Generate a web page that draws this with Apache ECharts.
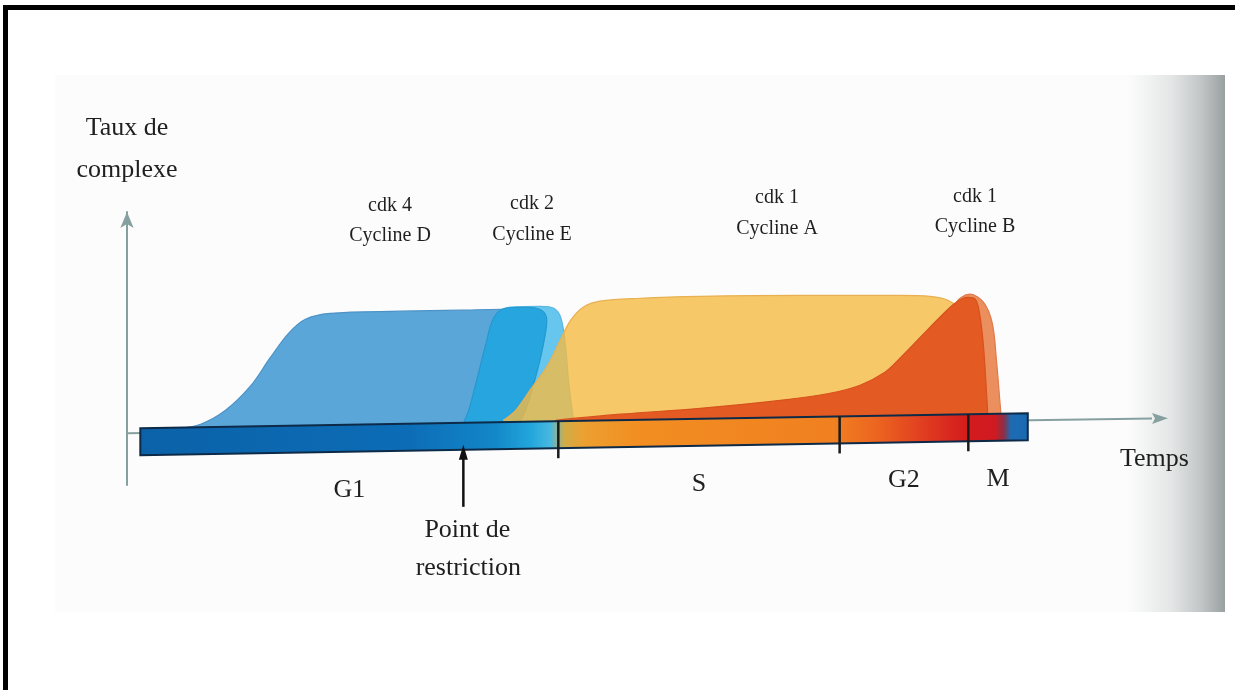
<!DOCTYPE html>
<html><head><meta charset="utf-8">
<script src="https://cdn.jsdelivr.net/npm/echarts@6/dist/echarts.min.js"></script>
<style>html,body{margin:0;padding:0;background:#fff}#c{width:1235px;height:690px}</style>
</head><body><div id="c"></div>
<script>
// ---- data (time in % of the cycle, level = taux de complexe, arbitrary units) ----
const phaseNames = ['G1', 'S', 'G2', 'M'];
const phaseStarts = [0, 47.1, 78.8, 93.3];
const cycleEnd = 100;
const restrictionPoint = 36.4;
const barTopLevels = [-5.7, 5.0];      // top edge of the phase bar at start / end of cycle
const barBottomLevels = [-24.9, -14.2];
const timeAxisRange = [-1.5, 115.8];
const timeAxisLevels = [-9.2, 1.4];    // the (slightly tilted, scanned) time axis
const complexLabels = [
  ['cdk 4', 'Cycline D'],
  ['cdk 2', 'Cycline E'],
  ['cdk 1', 'Cycline A'],
  ['cdk 1', 'Cycline B']
];
const cyclinD = [[4.3,-5.7],[6.8,-2.8],[9.6,7.1],[12.4,24.2],[14.6,44.1],[16.7,61.8],[18.6,71.8],[21.4,76.0],[29.3,77.5],[36.1,78.2],[40.6,78.9],[43.9,78.2],[45.6,72.5],[46.4,49.8],[46.9,14.2],[47.1,1.4]];
const cyclinERim = [[36.6,-1.4],[37.9,24.9],[39.0,53.3],[40.0,72.5],[41.5,80.3],[45.1,81.0],[46.6,79.6],[47.4,72.5],[47.9,53.3],[48.3,24.9],[48.8,1.4]];
const cyclinE = [[36.3,-3.6],[37.0,7.1],[37.9,28.4],[38.9,53.3],[39.8,72.5],[41.1,79.6],[43.6,80.3],[45.2,78.2],[45.8,71.1],[45.4,53.3],[44.6,32.0],[43.6,10.7],[42.8,-1.4]];
const cyclinA = [[40.9,0],[42.3,7.1],[43.9,21.3],[45.9,39.1],[47.3,56.9],[48.5,71.1],[49.9,80.3],[51.8,84.6],[56.3,86.7],[63.1,88.1],[74.4,88.8],[85.6,88.8],[89.0,88.1],[91.0,85.3],[92.4,78.2],[94.1,49.8],[95.2,17.8],[95.8,2.8]];
const cyclinBRim = [[90.1,14.2],[91.8,81.7],[93.5,89.6],[95.0,83.9],[96.0,68.9],[96.5,40.5],[96.8,17.8],[97.0,2.8]];
const cyclinB = [[46.8,0],[54.1,4.3],[63.1,8.5],[72.1,14.2],[77.7,19.2],[81.1,24.9],[83.9,34.1],[85.6,44.1],[87.9,59.0],[90.1,73.2],[91.8,83.2],[93.2,87.4],[94.1,86.0],[94.6,74.6],[95.0,53.3],[95.3,24.9],[95.5,3.6]];

// ---- chart ----
const SERIF = '"Liberation Serif", "DejaVu Serif", serif';
const TXT = '#1f1f1f';
const AXIS = '#86a0a0';
const areaBase = -7;

const chart = echarts.init(document.getElementById('c'), null, {renderer: 'canvas'});

function lerp(arr, t) { return arr[0] + (arr[1] - arr[0]) * t / cycleEnd; }

function areaSeries(name, data, fill, stroke, opacity, z) {
  return {
    type: 'line', name, data, z, smooth: 0.35, symbol: 'none', silent: true,
    lineStyle: {color: stroke, width: 1.2},
    areaStyle: {color: fill, opacity: opacity, origin: areaBase}
  };
}

const barGradient = new echarts.graphic.LinearGradient(0, 0, 1, 0, [
  {offset: 0, color: '#0b62a8'},
  {offset: 0.30, color: '#0c6cb6'},
  {offset: 0.40, color: '#1387c8'},
  {offset: 0.44, color: '#22a6dc'},
  {offset: 0.462, color: '#48b8e0'},
  {offset: 0.478, color: '#d0ac48'},
  {offset: 0.50, color: '#eca030'},
  {offset: 0.56, color: '#f28e22'},
  {offset: 0.78, color: '#f08020'},
  {offset: 0.83, color: '#ec6420'},
  {offset: 0.90, color: '#dc3020'},
  {offset: 0.93, color: '#d41c1c'},
  {offset: 0.962, color: '#d01a22'},
  {offset: 0.972, color: '#8a3048'},
  {offset: 0.98, color: '#1c6cb4'},
  {offset: 1, color: '#1a68b0'}
]);

const option = {
  animation: false,
  backgroundColor: '#ffffff',
  grid: {left: 127, right: 67, top: 212, bottom: 205, containLabel: false},
  xAxis: {
    type: 'value', min: timeAxisRange[0], max: timeAxisRange[1],
    axisLine: {show: false},
    axisTick: {show: false}, axisLabel: {show: false}, splitLine: {show: false},
    name: 'Temps', nameLocation: 'end', nameGap: -48,
    nameTextStyle: {fontFamily: SERIF, fontSize: 26, color: TXT, align: 'left', verticalAlign: 'top', padding: [26, 0, 0, 0]}
  },
  yAxis: {
    type: 'value', min: -46, max: 148,
    axisLine: {onZero: false, lineStyle: {color: AXIS, width: 2}, symbol: ['none', 'arrow'], symbolSize: [10, 16]},
    axisTick: {show: false}, axisLabel: {show: false}, splitLine: {show: false},
    name: 'Taux de\ncomplexe', nameLocation: 'end', nameGap: 21,
    nameTextStyle: {fontFamily: SERIF, fontSize: 26, lineHeight: 42, color: TXT, align: 'center'}
  },
  graphic: [
    {type: 'rect', z: -100, shape: {x: 55, y: 75, width: 1170, height: 537}, style: {fill: '#fcfcfc'}},
    {type: 'rect', z: -99, shape: {x: 1128, y: 75, width: 97, height: 537},
      style: {fill: new echarts.graphic.LinearGradient(0, 0, 1, 0, [
        {offset: 0, color: 'rgba(252,252,252,1)'},
        {offset: 0.45, color: '#e4e6e6'},
        {offset: 0.75, color: '#c2c6c6'},
        {offset: 1, color: '#9aa0a0'}])}},
    {type: 'rect', z: 100, shape: {x: 3, y: 5, width: 1232, height: 5}, style: {fill: '#000'}},
    {type: 'rect', z: 100, shape: {x: 3, y: 5, width: 5, height: 685}, style: {fill: '#000'}},
    ...[[390, 206, 236], [532, 204, 235], [777, 198, 229], [975, 197, 227]].flatMap((p, i) => [
      {type: 'text', z: 50, x: p[0], y: p[1], style: {text: complexLabels[i][0], font: '20px ' + SERIF, fill: TXT, align: 'center', verticalAlign: 'middle', textAlign: 'center', textVerticalAlign: 'middle'}},
      {type: 'text', z: 50, x: p[0], y: p[2], style: {text: complexLabels[i][1], font: '20px ' + SERIF, fill: TXT, align: 'center', verticalAlign: 'middle', textAlign: 'center', textVerticalAlign: 'middle'}}
    ])
  ],
  series: [
    {
      type: 'custom', name: 'Temps axis', z: 1, silent: true, clip: false,
      data: [[timeAxisRange[0], timeAxisRange[1]]],
      encode: {x: [0, 1]},
      renderItem: function (params, api) {
        const a = api.coord([api.value(0), timeAxisLevels[0]]);
        const b = api.coord([api.value(1), timeAxisLevels[1]]);
        const dx = b[0] - a[0], dy = b[1] - a[1], len = Math.hypot(dx, dy);
        const ux = dx / len, uy = dy / len, L = 16, W = 5.5;
        const base = [b[0] - ux * L, b[1] - uy * L];
        return {type: 'group', children: [
          {type: 'line', shape: {x1: a[0], y1: a[1], x2: base[0], y2: base[1]}, style: {stroke: AXIS, lineWidth: 2}},
          {type: 'polygon', shape: {points: [b, [base[0] - uy * W, base[1] + ux * W], [base[0] - ux * -3, base[1] - uy * -3], [base[0] + uy * W, base[1] - ux * W]]}, style: {fill: AXIS}}
        ]};
      }
    },
    areaSeries('Cycline D', cyclinD, '#5ba6d8', '#4c92c6', 1, 2),
    areaSeries('Cycline E (bord)', cyclinERim, '#66c6ee', '#5ab8e2', 1, 3),
    areaSeries('Cycline E', cyclinE, '#27a5de', '#2498cf', 1, 4),
    areaSeries('Cycline A', cyclinA, '#f4ba42', '#e8b050', 0.8, 5),
    areaSeries('Cycline B (bord)', cyclinBRim, '#eb8f5e', '#e07a48', 1, 6),
    areaSeries('Cycline B', cyclinB, '#e35a22', '#d8521e', 1, 7),
    {
      type: 'custom', name: 'phase bar', z: 10, silent: true, clip: false,
      data: [[0, cycleEnd]],
      encode: {x: [0, 1]},
      renderItem: function (params, api) {
        const s = api.value(0), e = api.value(1);
        const pts = [api.coord([s, barTopLevels[0]]), api.coord([e, barTopLevels[1]]),
                     api.coord([e, barBottomLevels[1]]), api.coord([s, barBottomLevels[0]])];
        return {type: 'polygon', shape: {points: pts},
          style: {fill: barGradient, stroke: '#0d2a48', lineWidth: 2}};
      }
    },
    {
      type: 'custom', name: 'phases', z: 11, silent: true, clip: false,
      data: phaseNames.map((n, i) => [phaseStarts[i], i < phaseNames.length - 1 ? phaseStarts[i + 1] : cycleEnd]),
      encode: {x: [0, 1]},
      renderItem: function (params, api) {
        const s = api.value(0), e = api.value(1), m = (s + e) / 2;
        const children = [];
        if (s > 0) {
          const top = api.coord([s, lerp(barTopLevels, s)]);
          const bot = api.coord([s, lerp(barBottomLevels, s)]);
          children.push({type: 'line', shape: {x1: top[0], y1: top[1], x2: bot[0], y2: bot[1] + 10},
            style: {stroke: '#1a1a1a', lineWidth: 2.5}});
        }
        const lb = api.coord([m, lerp(barBottomLevels, m)]);
        children.push({type: 'text', x: lb[0], y: lb[1] + 38,
          style: {text: phaseNames[params.dataIndex], font: '26px ' + SERIF, fill: TXT, align: 'center', verticalAlign: 'middle'}});
        return {type: 'group', children};
      }
    },
    {
      type: 'custom', name: 'Point de restriction', z: 12, silent: true, clip: false,
      data: [[restrictionPoint]],
      encode: {x: 0},
      renderItem: function (params, api) {
        const t = api.value(0);
        const b = api.coord([t, lerp(barBottomLevels, t)]);
        return {type: 'group', children: [
          {type: 'line', shape: {x1: b[0], y1: b[1] + 57, x2: b[0], y2: b[1] + 8}, style: {stroke: '#111', lineWidth: 2.5}},
          {type: 'polygon', shape: {points: [[b[0], b[1] - 5], [b[0] - 4.5, b[1] + 10], [b[0] + 4.5, b[1] + 10]]}, style: {fill: '#111'}},
          {type: 'text', x: b[0] + 4, y: b[1] + 80, style: {text: 'Point de', font: '26px ' + SERIF, fill: TXT, align: 'center', verticalAlign: 'middle'}},
          {type: 'text', x: b[0] + 5, y: b[1] + 118, style: {text: 'restriction', font: '26px ' + SERIF, fill: TXT, align: 'center', verticalAlign: 'middle'}}
        ]};
      }
    }
  ]
};
chart.setOption(option);
</script>
</body></html>
